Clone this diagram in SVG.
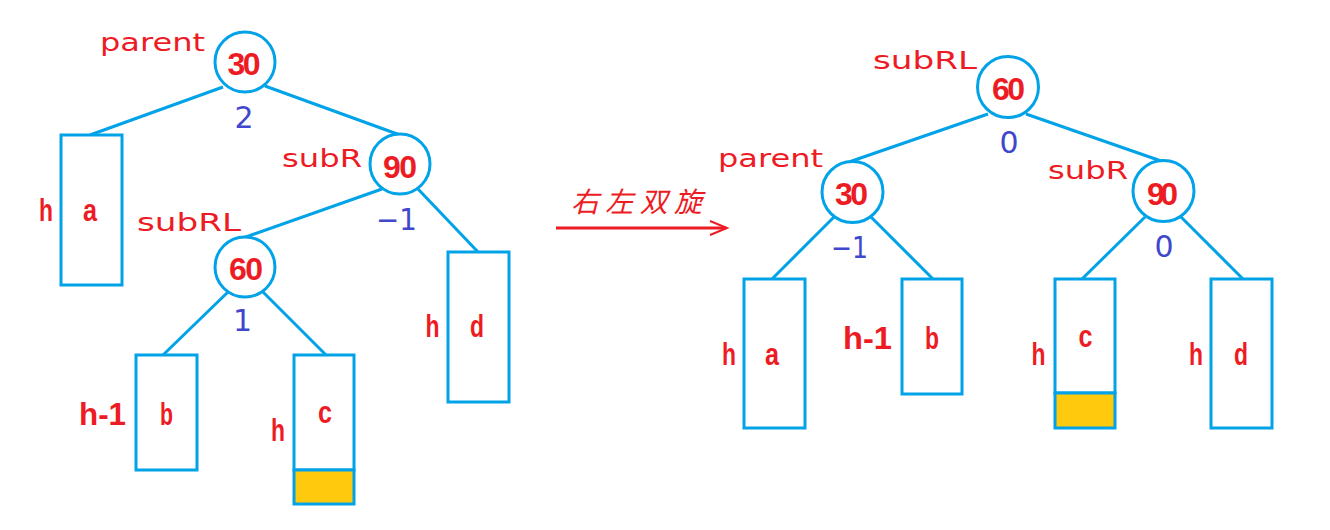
<svg xmlns="http://www.w3.org/2000/svg" width="1330" height="530" viewBox="0 0 1330 530">
<style>
.c{fill:#fff;stroke:#00a2e8;stroke-width:3}
.b{fill:#fff;stroke:#00a2e8;stroke-width:3}
.y{fill:#ffc90e;stroke:#00a2e8;stroke-width:3}
.ln{stroke:#00a2e8;stroke-width:3;fill:none}
.n{font-family:"Liberation Sans Narrow","Liberation Sans",Arial,sans-serif;font-size:32px;font-weight:bold;fill:#ed1c24;text-anchor:middle}
.l{font-family:"DejaVu Sans",Verdana,sans-serif;font-size:24px;fill:#ed1c24;text-anchor:middle}
.bf{font-family:"DejaVu Sans",Verdana,sans-serif;font-size:30px;fill:#3f48cc;text-anchor:middle}
.cn{font-family:"Noto Sans CJK SC",sans-serif;font-size:28px;fill:#ed1c24;font-style:italic}
</style>
<g id="connectors">
<line class="ln" x1="223" y1="87" x2="90" y2="135"/>
<line class="ln" x1="265" y1="86" x2="400" y2="135"/>
<line class="ln" x1="382" y1="189" x2="243" y2="238"/>
<line class="ln" x1="418" y1="189" x2="478" y2="252"/>
<line class="ln" x1="228" y1="292" x2="163" y2="355"/>
<line class="ln" x1="263" y1="292" x2="326" y2="355"/>
<line class="ln" x1="988" y1="114" x2="849" y2="162"/>
<line class="ln" x1="1026" y1="114" x2="1164" y2="162"/>
<line class="ln" x1="834" y1="217" x2="772" y2="279"/>
<line class="ln" x1="871" y1="217" x2="933" y2="279"/>
<line class="ln" x1="1145" y1="217" x2="1082" y2="279"/>
<line class="ln" x1="1181" y1="217" x2="1243" y2="279"/>
</g>
<g id="arrow">
<line x1="556" y1="228" x2="726" y2="228" stroke="#ed1c24" stroke-width="3"/>
<polyline points="710,221 727,228 710,235" fill="none" stroke="#ed1c24" stroke-width="2"/>
<text class="cn" x="571" y="212" textLength="131">右左双旋</text>
</g>
<g id="L-n30">
<circle class="c" cx="245" cy="62" r="30"/>
<text class="n" x="244" y="75" textLength="33">30</text>
<text class="l" x="152.5" y="51" textLength="105" lengthAdjust="spacingAndGlyphs">parent</text>
<text class="bf" x="244" y="128">2</text>
</g>
<g id="L-n90">
<circle class="c" cx="400" cy="164" r="30"/>
<text class="n" x="400" y="178" textLength="34">90</text>
<text class="l" x="322" y="167" textLength="80" lengthAdjust="spacingAndGlyphs">subR</text>
<text class="bf" x="396.5" y="230" textLength="41" lengthAdjust="spacingAndGlyphs">−1</text>
</g>
<g id="L-n60">
<circle class="c" cx="245" cy="267" r="30"/>
<text class="n" x="246" y="280" textLength="34">60</text>
<text class="l" x="189" y="231" textLength="104" lengthAdjust="spacingAndGlyphs">subRL</text>
<text class="bf" x="242.5" y="331">1</text>
</g>
<g id="L-a">
<rect class="b" x="61" y="135" width="61" height="150"/>
<text class="n" x="46" y="221" textLength="14" lengthAdjust="spacingAndGlyphs">h</text>
<text class="n" x="90" y="221" textLength="14" lengthAdjust="spacingAndGlyphs">a</text>
</g>
<g id="L-b">
<rect class="b" x="136" y="355" width="61" height="115"/>
<text class="n" x="102.5" y="425" textLength="47" lengthAdjust="spacingAndGlyphs">h-1</text>
<text class="n" x="166.5" y="425" textLength="13" lengthAdjust="spacingAndGlyphs">b</text>
</g>
<g id="L-c">
<rect class="b" x="294" y="355" width="60" height="115"/>
<rect class="y" x="294" y="470" width="60" height="34"/>
<text class="n" x="278" y="441" textLength="14" lengthAdjust="spacingAndGlyphs">h</text>
<text class="n" x="325" y="423" textLength="14" lengthAdjust="spacingAndGlyphs">c</text>
</g>
<g id="L-d">
<rect class="b" x="448" y="252" width="61" height="150"/>
<text class="n" x="432.5" y="337" textLength="14" lengthAdjust="spacingAndGlyphs">h</text>
<text class="n" x="477" y="337" textLength="14" lengthAdjust="spacingAndGlyphs">d</text>
</g>
<g id="R-n60">
<circle class="c" cx="1008" cy="87" r="30.5"/>
<text class="n" x="1008.5" y="100" textLength="33">60</text>
<text class="l" x="925" y="69" textLength="104" lengthAdjust="spacingAndGlyphs">subRL</text>
<text class="bf" x="1009" y="153">0</text>
</g>
<g id="R-n30">
<circle class="c" cx="852.5" cy="192" r="30.5"/>
<text class="n" x="851.5" y="205" textLength="33">30</text>
<text class="l" x="770.5" y="167" textLength="105" lengthAdjust="spacingAndGlyphs">parent</text>
<text class="bf" x="849.5" y="258" textLength="37" lengthAdjust="spacingAndGlyphs">−1</text>
</g>
<g id="R-n90">
<circle class="c" cx="1163.5" cy="191" r="30.5"/>
<text class="n" x="1162.5" y="205" textLength="31">90</text>
<text class="l" x="1088" y="179" textLength="80" lengthAdjust="spacingAndGlyphs">subR</text>
<text class="bf" x="1164" y="257">0</text>
</g>
<g id="R-a">
<rect class="b" x="744" y="279" width="61" height="149"/>
<text class="n" x="729" y="365" textLength="14" lengthAdjust="spacingAndGlyphs">h</text>
<text class="n" x="772" y="365" textLength="14" lengthAdjust="spacingAndGlyphs">a</text>
</g>
<g id="R-b">
<rect class="b" x="902" y="279" width="60" height="115"/>
<text class="n" x="867.5" y="349" textLength="49" lengthAdjust="spacingAndGlyphs">h-1</text>
<text class="n" x="932" y="349" textLength="14" lengthAdjust="spacingAndGlyphs">b</text>
</g>
<g id="R-c">
<rect class="b" x="1055" y="279" width="60" height="114"/>
<rect class="y" x="1055" y="393" width="60" height="35"/>
<text class="n" x="1038.5" y="365" textLength="14" lengthAdjust="spacingAndGlyphs">h</text>
<text class="n" x="1085.5" y="347" textLength="14" lengthAdjust="spacingAndGlyphs">c</text>
</g>
<g id="R-d">
<rect class="b" x="1211" y="279" width="61" height="149"/>
<text class="n" x="1196" y="365" textLength="14" lengthAdjust="spacingAndGlyphs">h</text>
<text class="n" x="1241" y="365" textLength="14" lengthAdjust="spacingAndGlyphs">d</text>
</g>
</svg>
